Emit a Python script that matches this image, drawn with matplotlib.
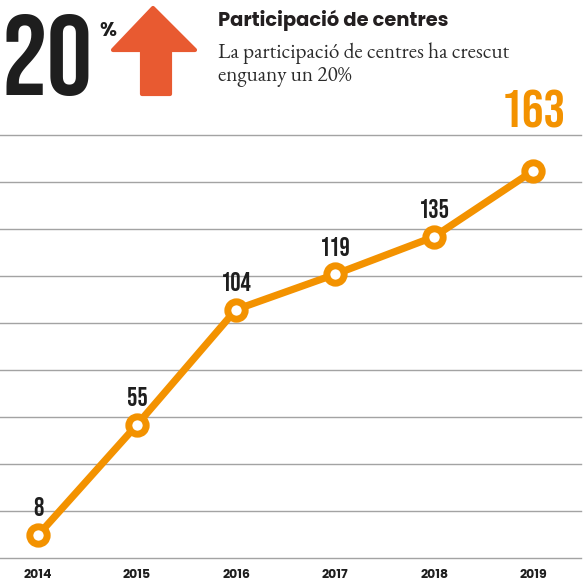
import numpy as np
import matplotlib
matplotlib.use('Agg')
import matplotlib.pyplot as plt
from matplotlib.patches import Polygon

years = ['2014', '2015', '2016', '2017', '2018', '2019']
centres = [8, 55, 104, 119, 135, 163]
growth = '20'
title = 'Participació de centres'
subtitle = ['La participació de centres ha crescut', 'enguany un 20%']

orange = '#F39200'
red = '#E85A31'
dark = '#1e1e1e'
# condensed display face, with fallbacks
narrow = ['Bebas Neue', 'Oswald', 'DejaVu Sans']
sans = ['Poppins', 'Lato', 'DejaVu Sans']
serif = ['EB Garamond', 'Liberation Serif']

W = H = 587
fig = plt.figure(figsize=(W / 100, H / 100), dpi=100)


def fx(px):
    return px / W


def fy(py):
    return 1 - py / H


# axes: 2014 at x=38px, 99px per year; grid from y=135px to 558px
ax = fig.add_axes([0, fy(558), fx(581), fy(135) - fy(558)])
x = np.arange(len(years))
ylo, yhi = -1.7, 178.3
ax.set_xlim(-38 / 99, (581 - 38) / 99)
ax.set_ylim(ylo, yhi)
ax.set_yticks(np.linspace(ylo, yhi, 10))
ax.grid(axis='y', color='#a3a3a3', lw=1.0)
for gl in ax.yaxis.get_gridlines():
    gl.set_clip_on(False)
ax.set_axisbelow(True)
for s in ax.spines.values():
    s.set_visible(False)
ax.tick_params(length=0, labelleft=False, pad=8)
ax.set_xticks(x)
ax.set_xticklabels(years, family=sans, weight='bold', size=9, color=dark)

ax.plot(x, centres, color=orange, lw=5.2, solid_capstyle='butt', zorder=3,
        marker='o', ms=12.5, mew=5.0, mfc='white', mec=orange, clip_on=False)

for i, v in enumerate(centres):
    last = i == len(centres) - 1
    ax.annotate(str(v), (x[i], v), xytext=(0, 31 if last else 13.5),
                textcoords='offset points', ha='center', va='baseline',
                family=narrow, weight='bold', size=39 if last else 18.5,
                color=orange if last else dark, annotation_clip=False)

# header
fig.text(fx(2), fy(95), growth, family=narrow, weight='bold', size=82,
         color=dark, ha='left', va='baseline')
fig.text(fx(99), fy(36), '%', family=sans, weight='bold', size=14,
         color=dark, ha='left', va='baseline')

arrow = [(153, 8), (195, 50), (170, 50), (170, 94), (142, 94), (142, 50), (113, 50)]
fig.patches.append(Polygon([(fx(a), fy(b)) for a, b in arrow], closed=True,
                           transform=fig.transFigure, facecolor=red,
                           edgecolor=red, lw=3, joinstyle='round'))

fig.text(fx(218), fy(26), title, family=sans, weight='bold', size=14,
         color='#231f20', ha='left', va='baseline')
for k, line in enumerate(subtitle):
    fig.text(fx(218), fy(58 + 23 * k), line, family=serif, size=15.3,
             color='#2b2b2b', ha='left', va='baseline')

fig.savefig('out.png', dpi=100, facecolor='white')
